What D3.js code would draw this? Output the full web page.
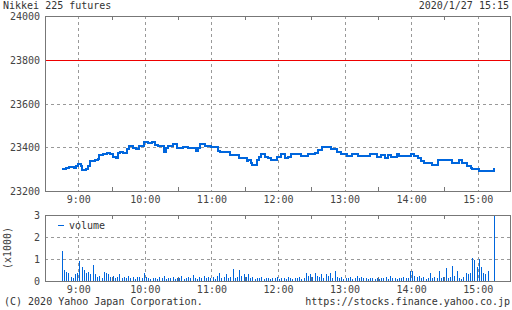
<!DOCTYPE html>
<html>
<head>
<meta charset="utf-8">
<script src="https://cdn.jsdelivr.net/npm/d3@7"></script>
<style>
  body { margin: 0; background: #fff; }
  svg { display: block; }
  text { font-family: "DejaVu Sans Mono", "Liberation Mono", monospace; font-size: 10px; fill: #333; }
</style>
</head>
<body>
<div id="content"></div>
<script>
// price (step line)
var priceTimes = ["08:45","08:49","08:52","08:56","08:58","09:00","09:02","09:03","09:07","09:09",
  "09:11","09:15","09:18","09:19","09:22","09:26","09:29","09:31","09:34","09:36",
  "09:38","09:40","09:44","09:46","09:49","09:52","09:55","09:59","10:03","10:06",
  "10:09","10:12","10:17","10:19","10:21","10:25","10:29","10:34","10:39","10:46",
  "10:48","10:50","10:54","11:00","11:06","11:08","11:17","11:25","11:32","11:33",
  "11:36","11:37","11:41","11:43","11:45","11:48","11:51","11:54","11:59","12:03",
  "12:06","12:09","12:12","12:21","12:27","12:33","12:36","12:40","12:48","12:53",
  "12:57","13:02","13:07","13:12","13:23","13:29","13:33","13:36","13:39","13:42",
  "13:47","13:49","14:00","14:03","14:06","14:09","14:12","14:19","14:24","14:37",
  "14:43","14:46","14:50","14:54","14:55","15:01","15:04","15:15"];
var priceValues = [23300,23305,23310,23305,23315,23325,23315,23295,23300,23315,
  23335,23340,23345,23365,23370,23375,23370,23355,23350,23375,
  23380,23372,23390,23407,23395,23392,23407,23425,23418,23425,
  23410,23405,23380,23395,23405,23415,23398,23400,23395,23382,
  23395,23415,23405,23400,23385,23380,23365,23352,23335,23340,
  23326,23318,23340,23357,23370,23357,23350,23342,23357,23370,
  23352,23357,23370,23360,23368,23375,23387,23400,23392,23377,
  23370,23360,23370,23360,23370,23357,23365,23352,23365,23357,
  23370,23360,23370,23360,23350,23338,23326,23318,23340,23326,
  23340,23326,23313,23305,23300,23292,23290,23305];

// volume (x1000), one bar every 2 minutes from 08:45, plus the closing bar
var volStart = "08:45";
var volStep = 2;
var volValues = [1.35,0.5,0.4,0.35,0.2,0.15,0.3,0.35,
  0.9,0.65,0.5,0.35,0.4,0.3,0.72,0.3,0.2,0.25,0.15,0.4,0.35,0.3,0.2,0.25,0.15,0.2,0.3,0.15,0.2,0.12,0.25,0.15,0.2,0.1,0.18,0.2,0.12,0.35,
  0.2,0.15,0.1,0.15,0.12,0.1,0.2,0.12,0.25,0.1,0.15,0.12,0.2,0.1,0.15,0.12,0.25,0.1,0.15,0.2,0.12,0.28,0.15,0.1,0.2,0.15,0.25,0.12,0.2,0.15,
  0.2,0.1,0.25,0.35,0.15,0.2,0.3,0.12,0.2,0.55,0.15,0.2,0.5,0.25,0.3,0.2,0.3,0.15,0.2,0.1,0.15,0.12,0.2,0.1,0.15,0.12,0.1,0.15,0.12,0.2,
  0.1,0.15,0.12,0.1,0.18,0.12,0.1,0.15,0.12,0.2,0.1,0.15,0.35,0.25,0.3,0.2,0.35,0.25,0.2,0.3,0.15,0.3,0.25,0.35,0.15,0.45,0.2,0.15,0.2,0.1,
  0.15,0.12,0.2,0.1,0.15,0.25,0.15,0.2,0.12,0.15,0.1,0.12,0.15,0.1,0.12,0.1,0.15,0.12,0.2,0.1,0.25,0.12,0.15,0.1,0.15,0.12,0.2,0.15,0.12,0.45,
  0.45,0.25,0.2,0.25,0.15,0.2,0.1,0.15,0.35,0.12,0.2,0.15,0.45,0.12,0.2,0.57,0.15,0.2,0.7,0.25,0.45,0.15,0.1,0.2,0.35,0.3,0.35,1.05,0.95,0.65,
  1.0,0.65,0.35,0.3,0.45];
var closeTime = "15:15";
var closeVolume = 2.95;

var hourTicks = ["09:00","10:00","11:00","12:00","13:00","14:00","15:00"];
var halfTicks = ["09:30","10:30","11:30","12:30","13:30","14:30"];
var priceTicks = [23200, 23400, 23600, 23800, 24000];
var volTicks = [0, 1, 2, 3];
var refPrice = 23800;

function toMin(s) { var p = s.split(":"); return +p[0] * 60 + +p[1]; }
function fmt(s) { return s.replace(/^0/, ""); }

var width = 512, height = 310;
var left = 45, right = 511;
var pTop = 16, pBottom = 191;
var vTop = 215, vBottom = 281;
var blue = "#0066dd";

var svg = d3.select("#content").append("svg")
  .attr("width", width).attr("height", height);

var x = d3.scaleLinear().domain([toMin("08:30"), toMin("15:30")]).range([left, right]);
var y = d3.scaleLinear().domain([23200, 24000]).range([pBottom, pTop]);
var yv = d3.scaleLinear().domain([0, 3]).range([vBottom, vTop]);

// titles
svg.append("text").attr("x", 3).attr("y", 9).text("Nikkei 225 futures");
svg.append("text").attr("x", 509).attr("y", 9).attr("text-anchor", "end").text("2020/1/27 15:15");

function panel(yTop, yBot, yScale, ticks, gridVals) {
  var g = svg.append("g").attr("shape-rendering", "crispEdges");
  // vertical hour grid
  g.selectAll(null).data(hourTicks).enter().append("line")
    .attr("x1", d => Math.round(x(toMin(d))) + 0.5).attr("x2", d => Math.round(x(toMin(d))) + 0.5)
    .attr("y1", yTop).attr("y2", yBot)
    .attr("stroke", "#999").attr("stroke-dasharray", "3,3");
  // horizontal grid
  g.selectAll(null).data(gridVals).enter().append("line")
    .attr("x1", left).attr("x2", right)
    .attr("y1", d => Math.round(yScale(d)) + 0.5).attr("y2", d => Math.round(yScale(d)) + 0.5)
    .attr("stroke", "#999").attr("stroke-dasharray", "3,3");
  // half hour minor ticks
  g.selectAll(null).data(halfTicks).enter().append("line")
    .attr("x1", d => Math.round(x(toMin(d))) + 0.5).attr("x2", d => Math.round(x(toMin(d))) + 0.5)
    .attr("y1", yTop).attr("y2", yTop + 4).attr("stroke", "#777");
  g.selectAll(null).data(halfTicks).enter().append("line")
    .attr("x1", d => Math.round(x(toMin(d))) + 0.5).attr("x2", d => Math.round(x(toMin(d))) + 0.5)
    .attr("y1", yBot - 4).attr("y2", yBot).attr("stroke", "#777");
  // y labels
  svg.selectAll(null).data(ticks).enter().append("text")
    .attr("x", 40).attr("y", d => yScale(d) + 4)
    .attr("text-anchor", "end").style("fill", "#444")
    .text(d => d);
  // time labels
  svg.selectAll(null).data(hourTicks).enter().append("text")
    .attr("x", d => x(toMin(d)) + 0.5).attr("y", yBot + 12)
    .attr("text-anchor", "middle").style("fill", "#444")
    .text(d => fmt(d));
  return g;
}

var pg = panel(pTop, pBottom, y, priceTicks, [23400, 23600]);

// reference line
svg.append("line").attr("shape-rendering", "crispEdges")
  .attr("x1", left).attr("x2", right)
  .attr("y1", Math.round(y(refPrice)) + 0.5).attr("y2", Math.round(y(refPrice)) + 0.5)
  .attr("stroke", "#ee0000");

// price step line
var priceData = priceTimes.map((t, i) => ({ t: toMin(t), v: priceValues[i] }));
svg.append("path").datum(priceData)
  .attr("fill", "none").attr("stroke", blue).attr("stroke-width", 2)
  .attr("d", d3.line().x(d => Math.round(x(d.t))).y(d => Math.round(y(d.v))).curve(d3.curveStepAfter));

// price frame
svg.append("rect").attr("shape-rendering", "crispEdges")
  .attr("x", left + 0.5).attr("y", pTop + 0.5).attr("width", right - left - 1).attr("height", pBottom - pTop)
  .attr("fill", "none").attr("stroke", "#777");

// volume panel
var vg = panel(vTop, vBottom, yv, volTicks, [1, 2]);

var volData = volValues.map((v, i) => ({ t: toMin(volStart) + i * volStep, v: v }));
volData.push({ t: toMin(closeTime), v: closeVolume });
svg.append("g").attr("shape-rendering", "crispEdges")
  .selectAll("rect").data(volData).enter().append("rect")
  .attr("x", d => Math.round(x(d.t)))
  .attr("width", 1)
  .attr("y", d => Math.round(yv(d.v)))
  .attr("height", d => vBottom - Math.round(yv(d.v)))
  .attr("fill", blue);

svg.append("rect").attr("shape-rendering", "crispEdges")
  .attr("x", left + 0.5).attr("y", vTop + 0.5).attr("width", right - left - 1).attr("height", vBottom - vTop)
  .attr("fill", "none").attr("stroke", "#777");

// legend
svg.append("line").attr("shape-rendering", "crispEdges")
  .attr("x1", 58).attr("x2", 64).attr("y1", 225.5).attr("y2", 225.5)
  .attr("stroke", blue).attr("stroke-width", 1);
svg.append("text").attr("x", 69).attr("y", 229).text("volume");

// unit label
svg.append("text").attr("transform", "translate(11,248) rotate(-90)")
  .attr("text-anchor", "middle").style("fill", "#444").text("(x1000)");

// footer
svg.append("text").attr("x", 4).attr("y", 305).text("(C) 2020 Yahoo Japan Corporation.");
svg.append("text").attr("x", 510).attr("y", 305).attr("text-anchor", "end").text("https://stocks.finance.yahoo.co.jp");
</script>
</body>
</html>
